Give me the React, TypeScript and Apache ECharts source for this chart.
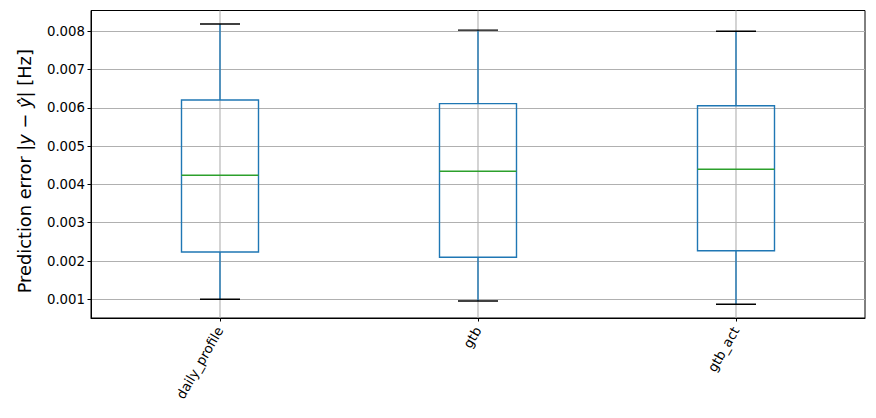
import React, { useEffect, useRef } from "react";
import * as echarts from "echarts";

const categories = ["daily_profile", "gtb", "gtb_act"];
const whiskerLow = [0.001, 0.000956, 0.00087];
const quartile1 = [0.002236, 0.002098, 0.00227];
const medians = [0.00424, 0.004344, 0.004396];
const quartile3 = [0.006206, 0.00611, 0.006057];
const whiskerHigh = [0.00819, 0.00803, 0.008];
const yTicks = [0.001, 0.002, 0.003, 0.004, 0.005, 0.006, 0.007, 0.008];

const FONT = "DejaVu Sans";

export default function App() {
  const ref = useRef<HTMLDivElement>(null);
  useEffect(() => {
    if (!ref.current) return;
    const chart = echarts.init(ref.current, null, { renderer: "svg" });
    const data = categories.map((_, i) => [
      i,
      whiskerLow[i],
      quartile1[i],
      medians[i],
      quartile3[i],
      whiskerHigh[i],
    ]);
    const halfBox = 38.5;
    const halfCap = 20;
    const blue = "#1f77b4";
    const lw = 1.4;
    chart.setOption({
      animation: false,
      backgroundColor: "#ffffff",
      grid: {
        left: 91,
        right: 11,
        top: 10.5,
        bottom: 100,
        show: true,
        borderColor: "#000",
        borderWidth: 1,
        backgroundColor: "transparent",
      },
      xAxis: {
        type: "category",
        data: categories,
        axisLine: { show: true, lineStyle: { color: "#000", width: 1 } },
        axisTick: { show: true, alignWithLabel: true, length: 3.5, lineStyle: { color: "#000", width: 1 } },
        axisLabel: { rotate: 60, color: "#000", fontFamily: FONT, fontSize: 13.3, margin: 10 },
        splitLine: { show: false },
      },
      yAxis: {
        type: "value",
        min: 0.000512,
        max: 0.008543,
        name: "{a|Prediction error |}{i|y}{a| − }{i|ŷ}{a|| [Hz]}",
        nameLocation: "middle",
        nameGap: 58,
        nameTextStyle: {
          padding: [0, 14, 0, 0],
          rich: {
            a: { fontFamily: FONT, fontSize: 17.8, color: "#000" },
            i: { fontFamily: FONT, fontSize: 17.8, fontStyle: "italic", color: "#000" },
          },
        },
        axisLine: { show: true, lineStyle: { color: "#000", width: 1 } },
        axisTick: { show: true, length: 3.5, customValues: yTicks, lineStyle: { color: "#000", width: 1 } },
        axisLabel: {
          customValues: yTicks,
          color: "#000",
          fontFamily: FONT,
          fontSize: 13.3,
          margin: 6,
          formatter: (v: number) => v.toFixed(3),
        },
        splitLine: { show: true, lineStyle: { color: "#b0b0b0", width: 1.1 } },
      },
      series: [
        {
          type: "custom",
          data,
          encode: { x: 0, y: [1, 2, 3, 4, 5] },
          renderItem: (params: any, api: any) => {
            const x = api.value(0);
            const lo = api.coord([x, api.value(1)]);
            const q1 = api.coord([x, api.value(2)]);
            const md = api.coord([x, api.value(3)]);
            const q3 = api.coord([x, api.value(4)]);
            const hi = api.coord([x, api.value(5)]);
            const cx = lo[0];
            const cs = params.coordSys;
            const line = (x1: number, y1: number, x2: number, y2: number, color: string, w: number) => ({
              type: "line",
              shape: { x1, y1, x2, y2 },
              style: { stroke: color, lineWidth: w, fill: null },
            });
            return {
              type: "group",
              children: [
                line(cx, cs.y, cx, cs.y + cs.height, "#b0b0b0", 1.1),
                {
                  type: "rect",
                  shape: { x: cx - halfBox, y: q3[1], width: halfBox * 2, height: q1[1] - q3[1] },
                  style: { stroke: blue, lineWidth: lw, fill: null },
                },
                line(cx, q3[1], cx, hi[1], blue, lw),
                line(cx, q1[1], cx, lo[1], blue, lw),
                line(cx - halfCap, hi[1], cx + halfCap, hi[1], "#000", lw),
                line(cx - halfCap, lo[1], cx + halfCap, lo[1], "#000", lw),
                line(cx - halfBox, md[1], cx + halfBox, md[1], "#2ca02c", lw),
              ],
            };
          },
        },
      ],
    });
    return () => chart.dispose();
  }, []);
  return (
    <div
      ref={ref}
      style={{ position: "fixed", left: 0, top: 0, width: 876, height: 418 }}
    />
  );
}
